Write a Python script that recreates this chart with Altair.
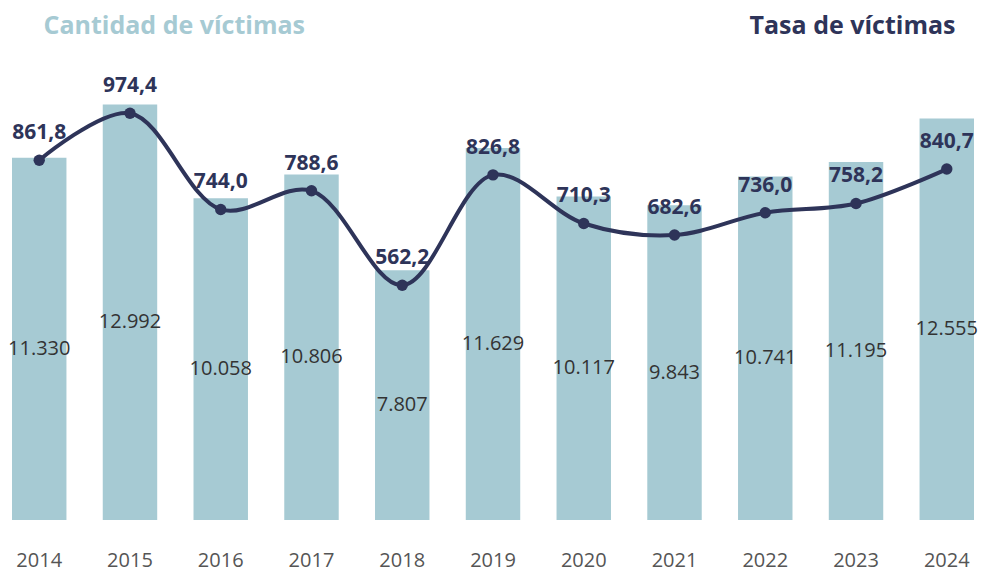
import altair as alt
import pandas as pd

years = ["2014", "2015", "2016", "2017", "2018", "2019", "2020", "2021", "2022", "2023", "2024"]
cantidad = [11330, 12992, 10058, 10806, 7807, 11629, 10117, 9843, 10741, 11195, 12555]
tasa = [861.8, 974.4, 744.0, 788.6, 562.2, 826.8, 710.3, 682.6, 736.0, 758.2, 840.7]

df = pd.DataFrame({"year": years, "cant": cantidad, "tasa": tasa})

FONT = "Open Sans"
BAR_COLOR = "#a6cad3"
LINE_COLOR = "#2e3459"

x = alt.X("year:N", title=None,
          scale=alt.Scale(paddingInner=0.4, paddingOuter=0),
          axis=alt.Axis(labelAngle=0, ticks=False, domain=False, labelPadding=30,
                        labelFontSize=20, labelColor="#555555", labelFont=FONT))

ybar = alt.Scale(domain=[0, 14070], nice=False)
yrate = alt.Scale(domain=[0, 1078], nice=False)

base = alt.Chart(df).transform_calculate(
    half="datum.cant / 2",
    cant_lbl="replace(format(datum.cant, ','), ',', '.')",
    tasa_lbl="replace(format(datum.tasa, '.1f'), '.', ',')",
)

bars = base.mark_bar(color=BAR_COLOR).encode(
    x=x,
    y=alt.Y("cant:Q", scale=ybar,
            axis=alt.Axis(title="Cantidad de víctimas", titleAngle=0, titleAlign="left",
                          titleBaseline="alphabetic", titleX=31, titleY=-37,
                          titleFontSize=25, titleFont=FONT, titleFontWeight="bold",
                          titleColor=BAR_COLOR, labels=False, ticks=False,
                          domain=False, grid=False)),
)

bar_text = base.mark_text(font=FONT, fontSize=20, color="#333333", dy=10,
                          baseline="middle").encode(
    x=x,
    y=alt.Y("half:Q", scale=ybar),
    text="cant_lbl:N",
)

line = base.mark_line(color=LINE_COLOR, strokeWidth=4, interpolate="catmull-rom").encode(
    x=x,
    y=alt.Y("tasa:Q", scale=yrate,
            axis=alt.Axis(orient="right", title="Tasa de víctimas", titleAngle=0,
                          titleAlign="right", titleBaseline="alphabetic", titleX=-19,
                          titleY=-37, titleFontSize=25, titleFont=FONT,
                          titleFontWeight="bold", titleColor=LINE_COLOR, labels=False,
                          ticks=False, domain=False, grid=False)),
)

points = base.mark_circle(color=LINE_COLOR, size=130, opacity=1).encode(
    x=x,
    y=alt.Y("tasa:Q", scale=yrate),
)

rate_text = base.mark_text(font=FONT, fontSize=21, fontWeight="bold", color=LINE_COLOR,
                           dy=-27, baseline="middle").encode(
    x=x,
    y=alt.Y("tasa:Q", scale=yrate),
    text="tasa_lbl:N",
)

chart = alt.layer(
    alt.layer(bars, bar_text),
    alt.layer(line, points, rate_text),
).resolve_scale(y="independent").properties(
    width=962, height=450,
    autosize=alt.AutoSizeParams(type="none"),
    padding={"left": 4, "top": 62, "right": 10, "bottom": 55},
).configure_view(stroke=None)

chart.save("out.html", embed_options={"renderer": "svg", "actions": False})
